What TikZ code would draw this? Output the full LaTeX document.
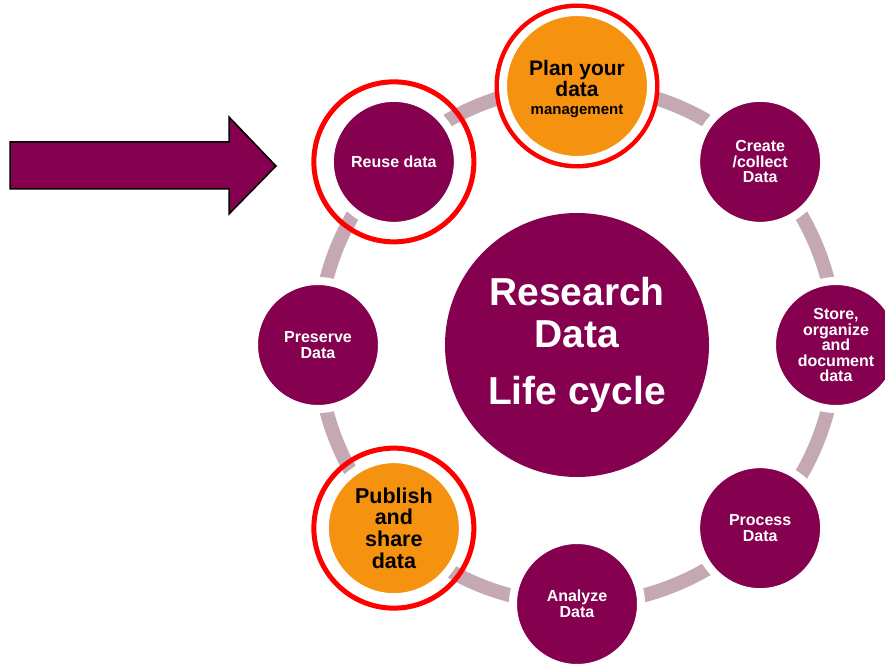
\documentclass[tikz,border=0pt]{standalone}
\usepackage{fontspec}
\setmainfont{Liberation Sans}
\usepackage{tikz}
\usetikzlibrary{positioning}
\usetikzlibrary{calc}

\definecolor{lcpurple}{RGB}{134,0,80}
\definecolor{lcorange}{RGB}{245,146,15}
\definecolor{lcring}{RGB}{196,168,180}

\tikzset{
  stage/.style={circle, fill=lcpurple, draw=white, line width=8pt, minimum size=128pt,
    inner sep=0pt, align=center, text=white, font=\fontsize{16}{15.5}\selectfont\bfseries},
  keystage/.style={stage, fill=lcorange, text=black},
  hilite/.style={draw=red, line width=5pt},
  hub/.style={circle, fill=lcpurple, minimum size=264pt, inner sep=0pt, align=center,
    text=white, font=\fontsize{39}{42}\selectfont\bfseries}
}

\begin{document}
\begin{tikzpicture}[x=1pt, y=1pt]
\useasboundingbox (0,0) rectangle (885,665);
\node[hub] (hub) at (577,320) {Research\\Data\\[15pt]Life cycle};
% the cycle behind the stages
\draw[lcring, line width=14pt] (hub.center) circle (259);
% highlighted stages
\draw[hilite] ([shift={(90:259)}]hub.center) circle (80);
\draw[hilite] ([shift={(135:259)}]hub.center) circle (80);
\draw[hilite] ([shift={(-135:259)}]hub.center) circle (80);
% stages
\node[keystage, minimum size=148pt, font=\fontsize{21}{21}\selectfont\bfseries] (plan) at ([shift={(90:259)}]hub.center) {\rule{0pt}{22pt}Plan your\\data\\[-3pt]{\fontsize{15}{15}\selectfont management}};
\node[stage] (create) at ([shift={(45:259)}]hub.center) {Create\\/collect\\Data};
\node[stage] (store) at ([shift={(0:259)}]hub.center) {Store,\\organize\\and\\document\\data};
\node[stage] (process) at ([shift={(-45:259)}]hub.center) {Process\\Data};
\node[stage] (analyze) at ([shift={(-90:259)}]hub.center) {Analyze\\Data};
\node[keystage, minimum size=138pt, font=\fontsize{21.5}{21.7}\selectfont\bfseries] (publish) at ([shift={(-135:259)}]hub.center) {Publish\\and\\share\\data};
\node[stage] (preserve) at ([shift={(180:259)}]hub.center) {Preserve\\Data};
\node[stage] (reuse) at ([shift={(135:259)}]hub.center) {Reuse data};
% big arrow
\draw[fill=lcpurple, line width=1.5pt, line join=miter] (10,523) -- (229,523) -- (229,548) -- (276,499)
  -- (229,451) -- (229,476) -- (10,476) -- cycle;
\end{tikzpicture}
\end{document}
